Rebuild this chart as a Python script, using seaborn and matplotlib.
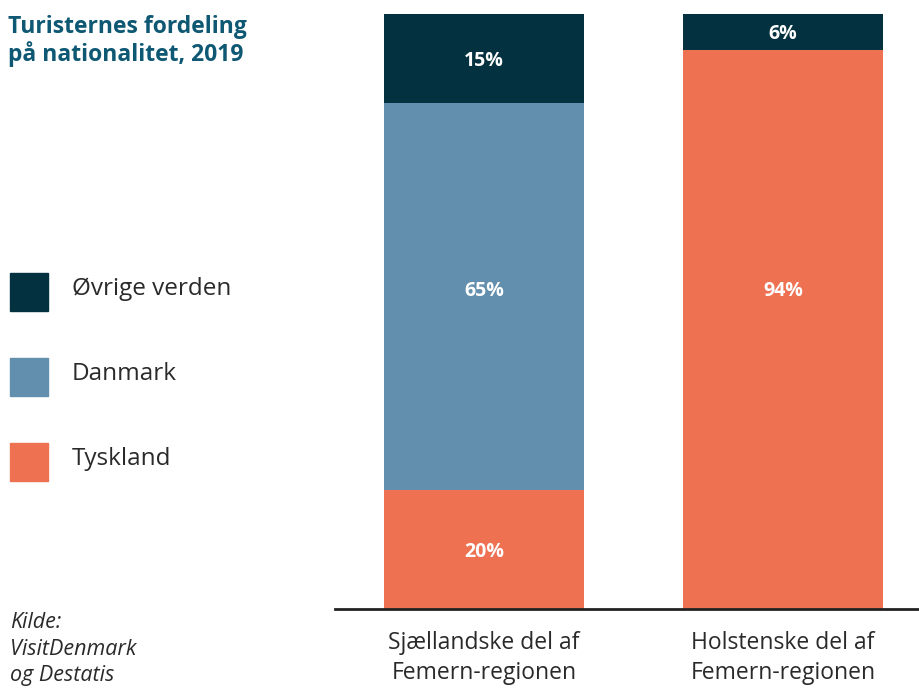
import matplotlib
matplotlib.use("Agg")
import matplotlib.pyplot as plt
import seaborn as sns
import pandas as pd
import numpy as np
from matplotlib.patches import Rectangle

regions = ["Sjællandske del af\nFemern-regionen", "Holstenske del af\nFemern-regionen"]
series = ["Tyskland", "Danmark", "Øvrige verden"]
tyskland = [20, 94]
danmark = [65, 0]
ovrige = [15, 6]
colors = {"Øvrige verden": "#04313f", "Danmark": "#628fad", "Tyskland": "#ee7152"}

sns.set_theme(style="white")
plt.rcParams['font.family'] = ['Open Sans', 'DejaVu Sans']

fig = plt.figure(figsize=(9.2, 6.9), dpi=100)
ax = fig.add_axes([335/920, 1 - 609/690, 1 - 335/920, (609 - 14)/690])

vals = {"Tyskland": tyskland, "Danmark": danmark, "Øvrige verden": ovrige}
cum = np.zeros(len(regions))
layers = []
for s in series:
    lo = cum.copy()
    cum = cum + np.array(vals[s])
    layers.append((s, lo, cum.copy()))

# draw from top cumulative to bottom so lower layers overlay
for s, lo, hi in reversed(layers):
    df = pd.DataFrame({"region": regions, "value": hi})
    sns.barplot(data=df, x="region", y="value", color=colors[s], width=0.67,
                saturation=1, ax=ax, edgecolor="none", linewidth=0)

for s, lo, hi in layers:
    for i in range(len(regions)):
        v = vals[s][i]
        if v > 0:
            yc = (lo[i] + hi[i]) / 2
            if v > 60:  # large segments: label at common middle height
                yc = 53.8
            ax.text(i, yc - 0.4, f"{v}%", ha="center", va="center",
                    color="white", fontsize=14, fontweight="bold")

ax.set_ylim(0, 100)
ax.set_xlim(-0.498, 1.458)
ax.set_xlabel("")
ax.set_ylabel("")
ax.set_yticks([])
for sp in ["top", "right", "left"]:
    ax.spines[sp].set_visible(False)
ax.spines["bottom"].set_color("#222222")
ax.spines["bottom"].set_linewidth(2)
ax.tick_params(axis="x", length=0, pad=16, labelsize=16.5, labelcolor="#2a2a2a")
for lbl in ax.get_xticklabels():
    lbl.set_linespacing(1.3)

# title
fig.text(8/920, 1 - 15/690, "Turisternes fordeling\npå nationalitet, 2019", ha="left", va="top",
         color="#0e5873", fontsize=16.5, fontweight="bold", linespacing=1.1)

# legend
leg_items = ["Øvrige verden", "Danmark", "Tyskland"]
for k, s in enumerate(leg_items):
    yc = 292 + k * 85
    fig.patches.append(Rectangle((10/920, 1 - (yc + 19)/690), 38/920, 38/690,
                                 transform=fig.transFigure, color=colors[s], figure=fig))
    fig.text(72/920, 1 - (yc - 3)/690, s, ha="left", va="center", color="#2a2a2a", fontsize=17.5)

# source
fig.text(10/920, 1 - 612/690, "Kilde:\nVisitDenmark\nog Destatis", ha="left", va="top",
         color="#2a2a2a", fontsize=15.5, style="italic", linespacing=1.35)

fig.savefig("out.png", dpi=100)
